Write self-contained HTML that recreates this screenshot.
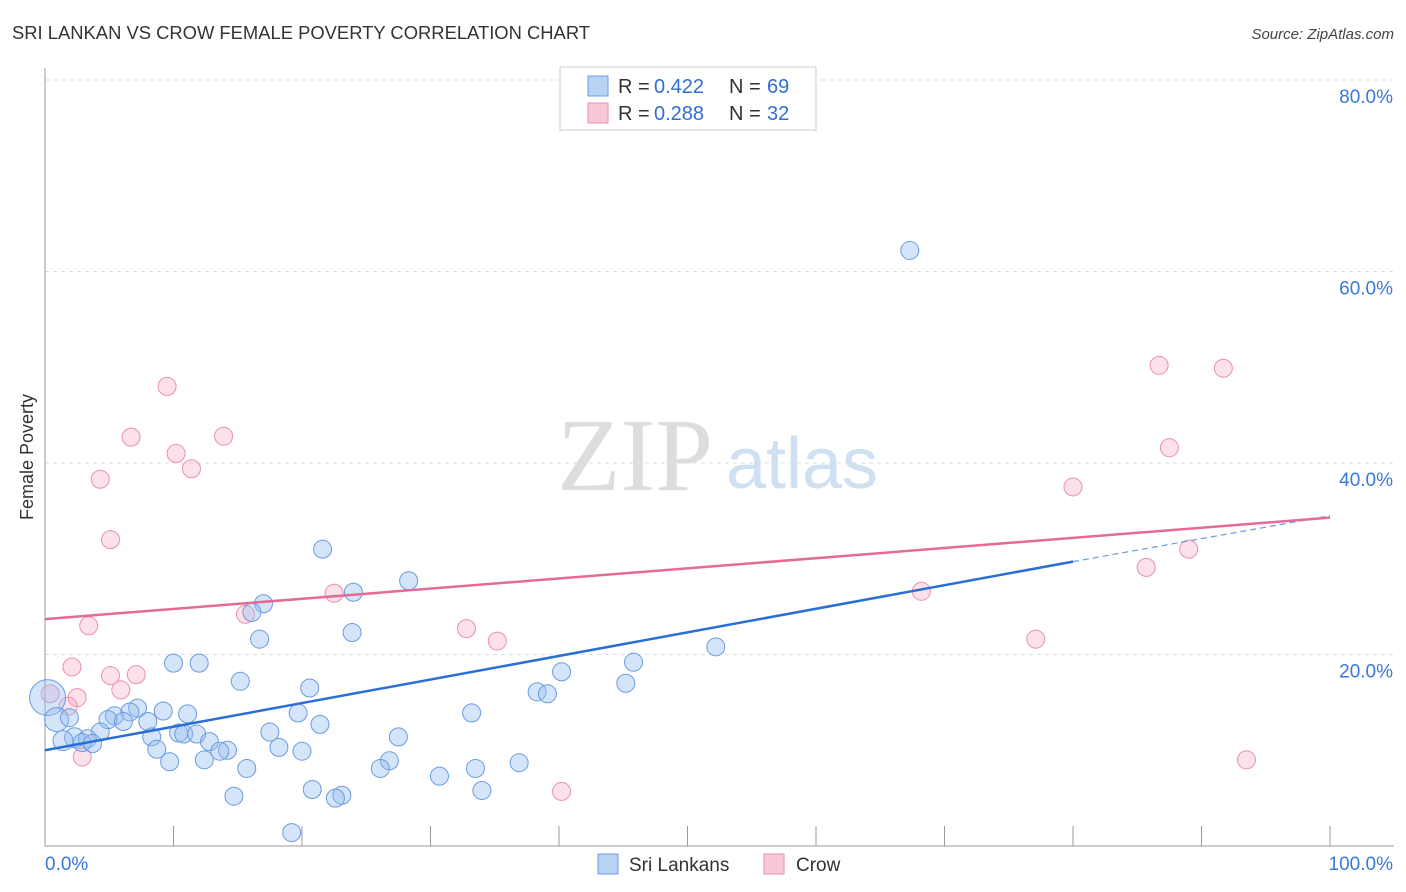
<!DOCTYPE html>
<html><head><meta charset="utf-8"><style>
body{margin:0;background:#fff;font-family:"Liberation Sans",sans-serif;}
svg{display:block}
</style></head><body>
<svg id="chart" width="1406" height="892" xmlns="http://www.w3.org/2000/svg">
<text x="12" y="39" font-size="18" fill="#333" textLength="578" lengthAdjust="spacingAndGlyphs">SRI LANKAN VS CROW FEMALE POVERTY CORRELATION CHART</text>
<text x="1394" y="39" font-size="15" fill="#444" text-anchor="end" font-style="italic">Source: ZipAtlas.com</text>
<text transform="translate(33,457) rotate(-90)" font-size="18" fill="#333" text-anchor="middle">Female Poverty</text>
<g>
<text x="635" y="490" font-size="104" fill="#ddd" text-anchor="middle" font-family="Liberation Serif,serif">ZIP</text>
<text x="802" y="488" font-size="72" fill="#cfe0f3" text-anchor="middle">atlas</text>
</g>
<g id="grid"></g><g id="axes"></g><g id="marks"></g>
<g>
<rect x="560" y="67" width="256" height="63" fill="#fff" stroke="#ccc"/>
<rect x="588" y="76" width="20" height="20" fill="#b9d3f5" stroke="#6a9be0"/>
<rect x="588" y="103" width="20" height="20" fill="#f9c8d7" stroke="#e890ad"/>
<text x="618" y="93" font-size="20" fill="#333">R =</text><text x="654" y="93" font-size="20" fill="#2f6fd0">0.422</text>
<text x="729" y="93" font-size="20" fill="#333">N =</text><text x="767" y="93" font-size="20" fill="#2f6fd0">69</text>
<text x="618" y="120" font-size="20" fill="#333">R =</text><text x="654" y="120" font-size="20" fill="#2f6fd0">0.288</text>
<text x="729" y="120" font-size="20" fill="#333">N =</text><text x="767" y="120" font-size="20" fill="#2f6fd0">32</text>
</g>
<g>
<rect x="598" y="854" width="20" height="20" fill="#b9d3f5" stroke="#6a9be0"/>
<text x="629" y="871" font-size="19" fill="#333">Sri Lankans</text>
<rect x="764" y="854" width="20" height="20" fill="#f9c8d7" stroke="#e890ad"/>
<text x="796" y="871" font-size="19" fill="#333">Crow</text>
</g>
</svg>
<script>
const yTicks=[20,40,60,80];
const yTickLabels=["20.0%","40.0%","60.0%","80.0%"];
const blueX=[67.3,21.6,28.3,24.0,17.0,16.1,23.9,16.7,52.2,45.8,10.0,12.0,40.2,15.2,45.2,20.6,38.3,39.1,0.2,7.2,9.2,6.6,5.4,11.1,19.7,33.2,4.9,0.9,1.9,6.1,8.0,21.4,4.3,10.4,10.8,17.5,11.8,8.3,27.5,2.3,3.3,1.4,2.9,3.7,12.8,18.2,8.7,14.2,13.6,20.0,26.8,12.4,9.7,36.9,15.7,26.1,33.5,30.7,20.8,34.0,23.1,22.6,14.7,19.2];
const blueY=[62.2,31.0,27.7,26.5,25.3,24.4,22.3,21.6,20.8,19.2,19.1,19.1,18.2,17.2,17.0,16.5,16.1,15.9,15.5,14.4,14.1,14.0,13.6,13.8,13.9,13.9,13.2,13.2,13.4,13.0,13.0,12.7,11.9,11.8,11.7,11.9,11.7,11.4,11.4,11.3,11.2,11.0,10.8,10.7,10.9,10.3,10.1,10.0,9.9,9.9,8.9,9.0,8.8,8.7,8.1,8.1,8.1,7.3,5.9,5.8,5.3,5.0,5.2,1.4];
const blueR=[9,9,9,9,9,9,9,9,9,9,9,9,9,9,9,9,9,9,18,9,9,9,9,9,9,9,9,12,9,9,9,9,9,9,9,9,9,9,9,10,9,10,9,9,9,9,9,9,9,9,9,9,9,9,9,9,9,9,9,9,9,9,9,9];
const pinkX=[86.7,91.7,9.5,6.7,13.9,10.2,11.4,4.3,87.5,80.0,5.1,89.0,85.7,68.2,22.5,15.6,3.4,32.8,35.2,77.1,2.1,5.1,7.1,5.9,0.4,2.5,1.8,2.9,93.5,40.2];
const pinkY=[50.2,49.9,48.0,42.7,42.8,41.0,39.4,38.3,41.6,37.5,32.0,31.0,29.1,26.6,26.4,24.2,23.0,22.7,21.4,21.6,18.7,17.8,17.9,16.3,15.9,15.5,14.6,9.3,9.0,5.7];
const blueTrend=[[0,10.0],[80,29.7]];
const blueTrendExt=[[80,29.7],[100,34.5]];
const pinkTrend=[[0,23.7],[100,34.3]];
const NS="http://www.w3.org/2000/svg";
const xS=v=>45+v*12.85, yS=v=>846-v*9.575;
function mk(p,t,a){const e=document.createElementNS(NS,t);for(const k in a)e.setAttribute(k,a[k]);p.appendChild(e);return e;}
const grid=document.getElementById('grid'),axes=document.getElementById('axes'),marks=document.getElementById('marks');
yTicks.forEach((t,i)=>{
 const l=mk(grid,'line',{x1:45,x2:1394,y1:yS(t),y2:yS(t),stroke:'#ddd','stroke-dasharray':'4,4'});
 
 
 const tx=mk(axes,'text',{x:1393,y:yS(t)+23,'font-size':19,fill:'#3a78d8','text-anchor':'end'});
 tx.textContent=yTickLabels[i];
 
 
});
mk(axes,'line',{x1:45,x2:45,y1:68,y2:846,stroke:'#999'});
mk(axes,'line',{x1:45,x2:1394,y1:846,y2:846,stroke:'#999'});
for(let i=0;i<=10;i++){mk(axes,'line',{x1:xS(i*10),x2:xS(i*10),y1:826,y2:846,stroke:'#999'});}
const x0=mk(axes,'text',{x:45,y:870,'font-size':19,fill:'#3a78d8'});x0.textContent='0.0%';


const x1=mk(axes,'text',{x:1393,y:870,'font-size':19,fill:'#3a78d8','text-anchor':'end'});x1.textContent='100.0%';


pinkX.forEach((x,i)=>{const c=mk(marks,'circle',{cx:xS(x),cy:yS(pinkY[i]),r:9,fill:'rgba(246,170,195,0.35)',stroke:'#e890ad','stroke-width':1});
 
 });
blueX.forEach((x,i)=>{const c=mk(marks,'circle',{cx:xS(x),cy:yS(blueY[i]),r:blueR[i],fill:'rgba(150,190,240,0.4)',stroke:'#6a9be0','stroke-width':1});
 
 });
let t=mk(marks,'line',{x1:xS(blueTrend[0][0]),y1:yS(blueTrend[0][1]),x2:xS(blueTrend[1][0]),y2:yS(blueTrend[1][1]),stroke:'#2a6fd6','stroke-width':2.5});


t=mk(marks,'line',{x1:xS(blueTrendExt[0][0]),y1:yS(blueTrendExt[0][1]),x2:xS(blueTrendExt[1][0]),y2:yS(blueTrendExt[1][1]),stroke:'#6a9be0','stroke-width':1.2,'stroke-dasharray':'6,4'});


t=mk(marks,'line',{x1:xS(pinkTrend[0][0]),y1:yS(pinkTrend[0][1]),x2:xS(pinkTrend[1][0]),y2:yS(pinkTrend[1][1]),stroke:'#e36b98','stroke-width':2.5});


</script>
</body></html>
